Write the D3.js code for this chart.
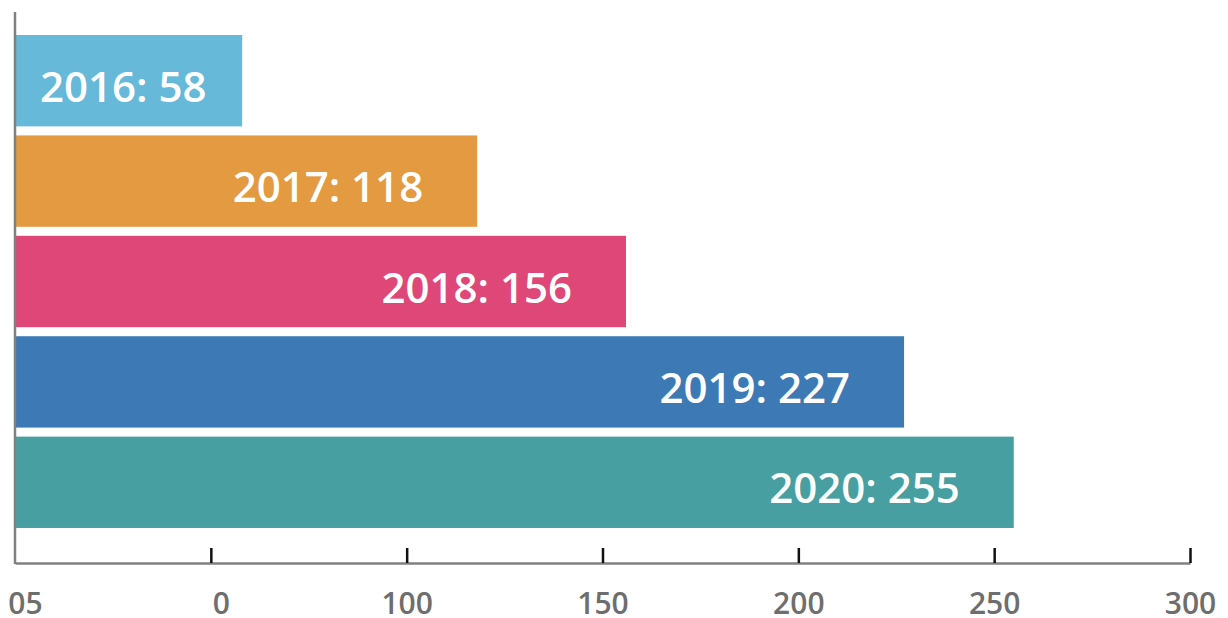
<!DOCTYPE html>
<html>
<head>
<meta charset="utf-8">
<script src="https://cdn.jsdelivr.net/npm/d3@7"></script>
<style>
  body { margin: 0; background: #fff; }
  svg { display: block; }
</style>
</head>
<body>
<svg id="svg"></svg>
<script>
// data
const years = ['2016', '2017', '2018', '2019', '2020'];
const values = [58, 118, 156, 227, 255];
const colors = ['#66b9d9', '#e39a40', '#df4779', '#3d7ab5', '#489fa2'];
const tickValues = [0, 50, 100, 150, 200, 250, 300];
const tickLabels = ['05', '0', '100', '150', '200', '250', '300'];

const width = 1228, height = 618;
const svg = d3.select('#svg').attr('width', width).attr('height', height);

const xScale = d3.scaleLinear().domain([0, 300]).range([15, 1190]);
const yScale = d3.scaleBand()
  .domain(years)
  .range([30.5, 532.5])
  .paddingInner(0.09)
  .paddingOuter(0.045);

// bars
const bars = svg.selectAll('.bar-group')
  .data(years)
  .enter()
  .append('g')
  .attr('class', 'bar-group');

bars.append('rect')
  .attr('x', xScale(0))
  .attr('y', d => yScale(d))
  .attr('width', (d, i) => xScale(values[i]) - xScale(0))
  .attr('height', yScale.bandwidth())
  .attr('fill', (d, i) => colors[i]);

bars.append('text')
  .attr('x', (d, i) => xScale(values[i]) - 54)
  .attr('y', d => yScale(d) + yScale.bandwidth() / 2 + 21)
  .attr('text-anchor', 'end')
  .attr('fill', '#fff')
  .style('font-family', '"Open Sans", sans-serif')
  .style('font-weight', 600)
  .style('font-size', '42px')
  .text((d, i) => `${d}: ${values[i]}`)
  .each(function() {
    // keep short labels off the left edge
    const box = this.getBBox();
    if (box.x < 40) d3.select(this).attr('x', +d3.select(this).attr('x') + (40 - box.x));
  });

// x axis
const xAxis = d3.axisBottom(xScale)
  .tickValues(tickValues)
  .tickSize(0)
  .tickPadding(0)
  .tickFormat((d, i) => tickLabels[i]);

const axisG = svg.append('g')
  .attr('transform', 'translate(0,563)')
  .call(xAxis);

axisG.select('.domain').attr('stroke', '#808080').attr('stroke-width', 2.5);
axisG.selectAll('.tick text')
  .attr('y', 51)
  .attr('dy', 0)
  .attr('dx', (d, i) => i < 2 ? 10 : 0)
  .attr('fill', '#6e6e6e')
  .style('font-family', '"Open Sans", sans-serif')
  .style('font-weight', 600)
  .style('font-size', '30px');

// small ticks above the axis
axisG.selectAll('.tick')
  .filter(d => d > 0)
  .append('line')
  .attr('y1', 0)
  .attr('y2', -15)
  .attr('stroke', '#111')
  .attr('stroke-width', 2.5);

// left axis line
svg.append('line')
  .attr('x1', xScale(0)).attr('x2', xScale(0))
  .attr('y1', 12).attr('y2', 564)
  .attr('stroke', '#808080')
  .attr('stroke-width', 2.5);
</script>
</body>
</html>
